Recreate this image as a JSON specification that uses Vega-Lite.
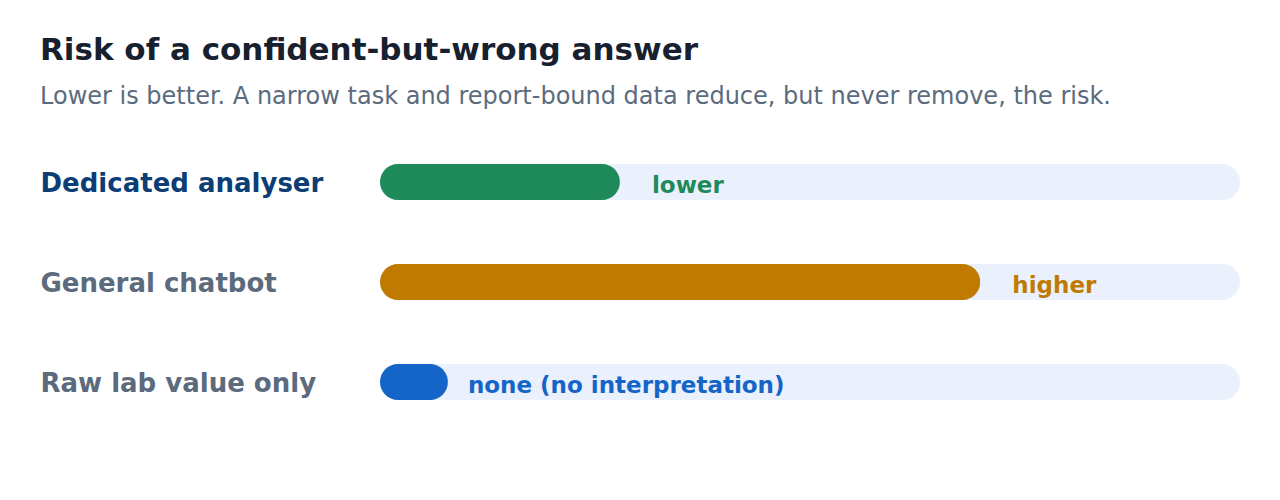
{
  "$schema": "https://vega.github.io/schema/vega-lite/v6.json",
  "width": 860,
  "height": 300,
  "autosize": {"type": "pad"},
  "padding": {"left": 40, "right": 40, "top": 35, "bottom": 40},
  "background": "#ffffff",
  "config": {
    "view": {"stroke": null},
    "font": "DejaVu Sans"
  },
  "title": {
    "text": "Risk of a confident-but-wrong answer",
    "subtitle": "Lower is better. A narrow task and report-bound data reduce, but never remove, the risk.",
    "anchor": "start",
    "frame": "bounds",
    "font": "DejaVu Sans",
    "fontSize": 31,
    "fontWeight": "bold",
    "color": "#16202e",
    "subtitleFont": "DejaVu Sans",
    "subtitleFontSize": 24,
    "subtitleColor": "#5b6b7d",
    "subtitlePadding": 18,
    "offset": 22
  },
  "data": {
    "values": [
      {"name": "Dedicated analyser", "risk": 0.279, "label": "lower"},
      {"name": "General chatbot", "risk": 0.698, "label": "higher"},
      {"name": "Raw lab value only", "risk": 0.079, "label": "none (no interpretation)"}
    ]
  },
  "encoding": {
    "y": {
      "field": "name",
      "type": "nominal",
      "sort": null,
      "scale": {"paddingInner": 0, "paddingOuter": 0},
      "axis": {
        "title": null,
        "ticks": false,
        "domain": false,
        "labelAlign": "left",
        "labelPadding": 340,
        "labelBaseline": "middle",
        "labelOffset": 2,
        "labelFont": "DejaVu Sans",
        "labelFontSize": 26,
        "labelFontWeight": "bold",
        "labelLimit": 400,
        "labelColor": {
          "condition": {"test": "datum.value == 'Dedicated analyser'", "value": "#0d3d75"},
          "value": "#5b6b7d"
        }
      }
    }
  },
  "layer": [
    {
      "mark": {"type": "bar", "height": 36, "cornerRadius": 18, "color": "#eaf1fc"},
      "encoding": {
        "x": {"datum": 0, "type": "quantitative", "scale": {"domain": [0, 1], "nice": false, "zero": true}, "axis": null},
        "x2": {"datum": 1}
      }
    },
    {
      "mark": {"type": "bar", "height": 36, "cornerRadius": 18},
      "encoding": {
        "x": {"field": "risk", "type": "quantitative", "scale": {"domain": [0, 1], "nice": false}, "axis": null},
        "color": {
          "field": "name",
          "type": "nominal",
          "scale": {
            "domain": ["Dedicated analyser", "General chatbot", "Raw lab value only"],
            "range": ["#1e8a5a", "#c07a00", "#1565c8"]
          },
          "legend": null
        }
      }
    },
    {
      "transform": [{"filter": "datum.name != 'Raw lab value only'"}],
      "mark": {"type": "text", "align": "left", "baseline": "middle", "dx": 32, "dy": 4, "fontSize": 23, "fontWeight": "bold", "font": "DejaVu Sans"},
      "encoding": {
        "x": {"field": "risk", "type": "quantitative"},
        "text": {"field": "label"},
        "color": {"field": "name", "type": "nominal", "legend": null}
      }
    },
    {
      "transform": [{"filter": "datum.name == 'Raw lab value only'"}],
      "mark": {"type": "text", "align": "left", "baseline": "middle", "dx": 20, "dy": 4, "fontSize": 23, "fontWeight": "bold", "font": "DejaVu Sans"},
      "encoding": {
        "x": {"field": "risk", "type": "quantitative"},
        "text": {"field": "label"},
        "color": {"field": "name", "type": "nominal", "legend": null}
      }
    }
  ]
}
